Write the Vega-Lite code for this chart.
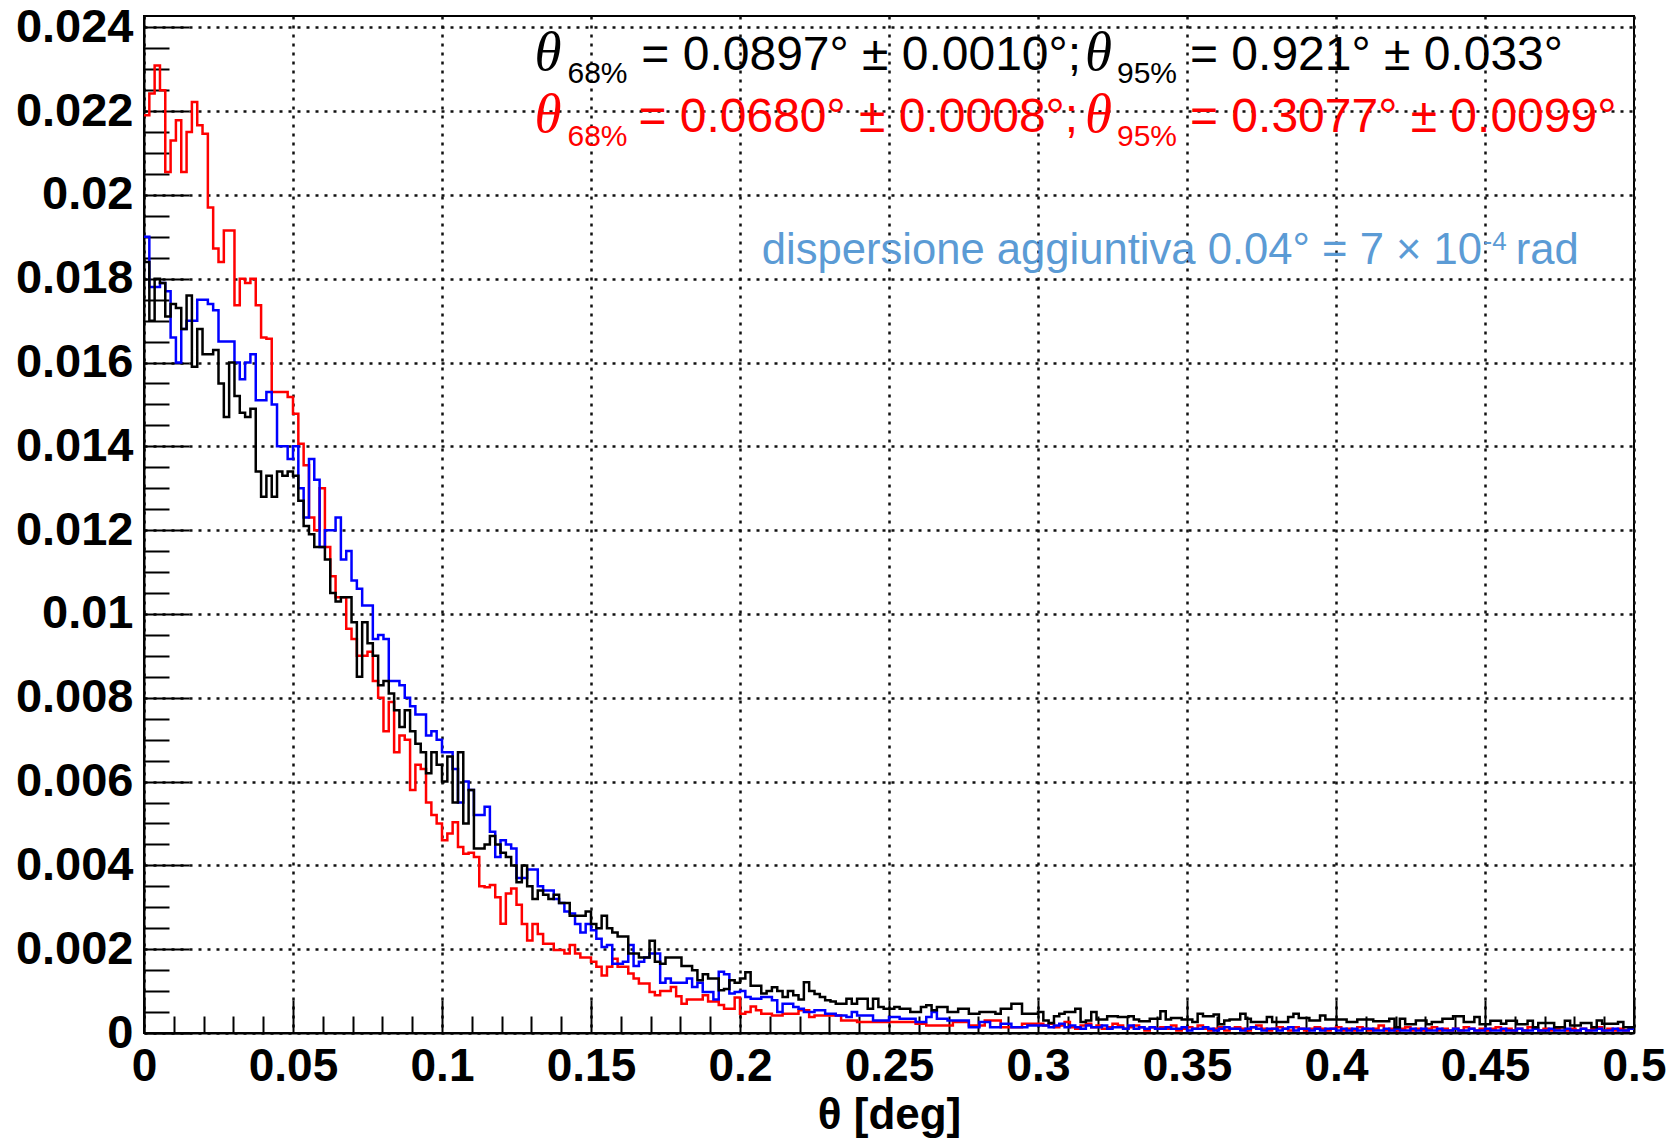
{
"$schema": "https://vega.github.io/schema/vega-lite/v6.json",
"width": 1490, "height": 1017,
"autosize": {"type": "none"},
"padding": {"left": 144, "top": 16, "right": 36, "bottom": 106},
"background": "white",
"config": {"view": {"stroke": "#000", "strokeWidth": 2}, "font": "Liberation Sans"},
"datasets": {
"hist": [
{"x":0,"black":0.0184,"red":0.0219,"blue":0.019},
{"x":0.00179,"black":0.017,"red":0.02242,"blue":0.0178},
{"x":0.00357,"black":0.018,"red":0.02309,"blue":0.0178},
{"x":0.00536,"black":0.0179,"red":0.0225,"blue":0.0179},
{"x":0.00714,"black":0.0171,"red":0.02055,"blue":0.0177},
{"x":0.00893,"black":0.0174,"red":0.0213,"blue":0.0166},
{"x":0.01071,"black":0.0173,"red":0.02178,"blue":0.016},
{"x":0.0125,"black":0.0168,"red":0.02055,"blue":0.0168},
{"x":0.01429,"black":0.0176,"red":0.0215,"blue":0.017},
{"x":0.01607,"black":0.0159,"red":0.02222,"blue":0.017},
{"x":0.01786,"black":0.0168,"red":0.02166,"blue":0.0175},
{"x":0.01964,"black":0.0162,"red":0.02146,"blue":0.0175},
{"x":0.02143,"black":0.0162,"red":0.0197,"blue":0.0174},
{"x":0.02321,"black":0.0163,"red":0.01872,"blue":0.01725},
{"x":0.025,"black":0.0155,"red":0.0184,"blue":0.0165},
{"x":0.02679,"black":0.0147,"red":0.01915,"blue":0.0165},
{"x":0.02857,"black":0.016,"red":0.01915,"blue":0.0165},
{"x":0.03036,"black":0.0152,"red":0.01737,"blue":0.016},
{"x":0.03214,"black":0.0148,"red":0.018,"blue":0.0156},
{"x":0.03393,"black":0.0147,"red":0.0179,"blue":0.016},
{"x":0.03571,"black":0.0149,"red":0.018,"blue":0.0162},
{"x":0.0375,"black":0.0134,"red":0.01737,"blue":0.0151},
{"x":0.03929,"black":0.0128,"red":0.0166,"blue":0.0151},
{"x":0.04107,"black":0.0133,"red":0.01657,"blue":0.0153},
{"x":0.04286,"black":0.0128,"red":0.0153,"blue":0.015},
{"x":0.04464,"black":0.0134,"red":0.0153,"blue":0.014},
{"x":0.04643,"black":0.0133,"red":0.0153,"blue":0.014},
{"x":0.04821,"black":0.0134,"red":0.01518,"blue":0.0137},
{"x":0.05,"black":0.0133,"red":0.01478,"blue":0.014},
{"x":0.05179,"black":0.0127,"red":0.01406,"blue":0.013},
{"x":0.05357,"black":0.0121,"red":0.01355,"blue":0.0123},
{"x":0.05536,"black":0.0119,"red":0.0123,"blue":0.0137},
{"x":0.05714,"black":0.0116,"red":0.012,"blue":0.0132},
{"x":0.05893,"black":0.0116,"red":0.013,"blue":0.0116},
{"x":0.06071,"black":0.0113,"red":0.0116,"blue":0.012},
{"x":0.0625,"black":0.0105,"red":0.0109,"blue":0.012},
{"x":0.06429,"black":0.0103,"red":0.0104,"blue":0.0123},
{"x":0.06607,"black":0.0104,"red":0.0104,"blue":0.0113},
{"x":0.06786,"black":0.0104,"red":0.00965,"blue":0.0115},
{"x":0.06964,"black":0.0098,"red":0.0094,"blue":0.0108},
{"x":0.07143,"black":0.0085,"red":0.009,"blue":0.0106},
{"x":0.07321,"black":0.0098,"red":0.009,"blue":0.0102},
{"x":0.075,"black":0.0093,"red":0.0091,"blue":0.0102},
{"x":0.07679,"black":0.009,"red":0.0084,"blue":0.0094},
{"x":0.07857,"black":0.0083,"red":0.008,"blue":0.0095},
{"x":0.08036,"black":0.0084,"red":0.0072,"blue":0.0094},
{"x":0.08214,"black":0.0081,"red":0.0079,"blue":0.0084},
{"x":0.08393,"black":0.0077,"red":0.0067,"blue":0.0084},
{"x":0.08571,"black":0.0073,"red":0.0071,"blue":0.0083},
{"x":0.0875,"black":0.0077,"red":0.007,"blue":0.008},
{"x":0.08929,"black":0.0072,"red":0.0058,"blue":0.0078},
{"x":0.09107,"black":0.0069,"red":0.0064,"blue":0.0076},
{"x":0.09286,"black":0.0067,"red":0.0063,"blue":0.0076},
{"x":0.09464,"black":0.0062,"red":0.0055,"blue":0.0071},
{"x":0.09643,"black":0.0067,"red":0.0052,"blue":0.0072},
{"x":0.09821,"black":0.0064,"red":0.005,"blue":0.007},
{"x":0.1,"black":0.006,"red":0.0046,"blue":0.0067},
{"x":0.10179,"black":0.0066,"red":0.00476,"blue":0.0067},
{"x":0.10357,"black":0.0055,"red":0.00503,"blue":0.0063},
{"x":0.10536,"black":0.0067,"red":0.00444,"blue":0.0055},
{"x":0.10714,"black":0.005,"red":0.00428,"blue":0.006},
{"x":0.10893,"black":0.0058,"red":0.0043,"blue":0.0058},
{"x":0.11071,"black":0.0044,"red":0.0042,"blue":0.0052},
{"x":0.1125,"black":0.0044,"red":0.0035,"blue":0.0052},
{"x":0.11429,"black":0.0045,"red":0.00348,"blue":0.0054},
{"x":0.11607,"black":0.0047,"red":0.00353,"blue":0.0048},
{"x":0.11786,"black":0.0045,"red":0.00324,"blue":0.0042},
{"x":0.11964,"black":0.0043,"red":0.00261,"blue":0.0046},
{"x":0.12143,"black":0.0042,"red":0.00333,"blue":0.0045},
{"x":0.12321,"black":0.004,"red":0.00345,"blue":0.0044},
{"x":0.125,"black":0.0036,"red":0.00306,"blue":0.0037},
{"x":0.12679,"black":0.004,"red":0.0026,"blue":0.0037},
{"x":0.12857,"black":0.0035,"red":0.00221,"blue":0.0039},
{"x":0.13036,"black":0.0032,"red":0.0026,"blue":0.0039},
{"x":0.13214,"black":0.0034,"red":0.00236,"blue":0.0035},
{"x":0.13393,"black":0.0033,"red":0.00213,"blue":0.0034},
{"x":0.13571,"black":0.0032,"red":0.00213,"blue":0.0034},
{"x":0.1375,"black":0.0033,"red":0.00198,"blue":0.0032},
{"x":0.13929,"black":0.0031,"red":0.00198,"blue":0.0031},
{"x":0.14107,"black":0.0031,"red":0.0019,"blue":0.0029},
{"x":0.14286,"black":0.0028,"red":0.0021,"blue":0.00285},
{"x":0.14464,"black":0.0028,"red":0.0019,"blue":0.0026},
{"x":0.14643,"black":0.0028,"red":0.0018,"blue":0.0024},
{"x":0.14821,"black":0.0029,"red":0.0018,"blue":0.0026},
{"x":0.15,"black":0.0026,"red":0.0017,"blue":0.00245},
{"x":0.15179,"black":0.0025,"red":0.00158,"blue":0.00225},
{"x":0.15357,"black":0.0028,"red":0.00137,"blue":0.00205},
{"x":0.15536,"black":0.0025,"red":0.00158,"blue":0.0021},
{"x":0.15714,"black":0.0024,"red":0.00177,"blue":0.00165},
{"x":0.15893,"black":0.0023,"red":0.00158,"blue":0.00165},
{"x":0.16071,"black":0.0023,"red":0.00158,"blue":0.0017},
{"x":0.1625,"black":0.0019,"red":0.00142,"blue":0.0021},
{"x":0.16429,"black":0.0019,"red":0.0013,"blue":0.0016},
{"x":0.16607,"black":0.0018,"red":0.00118,"blue":0.0017},
{"x":0.16786,"black":0.0018,"red":0.00118,"blue":0.0018},
{"x":0.16964,"black":0.0022,"red":0.00098,"blue":0.0019},
{"x":0.17143,"black":0.0017,"red":0.0009,"blue":0.0019},
{"x":0.17321,"black":0.00165,"red":0.001,"blue":0.0012},
{"x":0.175,"black":0.0018,"red":0.001,"blue":0.0013},
{"x":0.17679,"black":0.0018,"red":0.0011,"blue":0.0012},
{"x":0.17857,"black":0.0018,"red":0.00088,"blue":0.0012},
{"x":0.18036,"black":0.0016,"red":0.0007,"blue":0.0012},
{"x":0.18214,"black":0.0016,"red":0.0008,"blue":0.0013},
{"x":0.18393,"black":0.0015,"red":0.0008,"blue":0.0011},
{"x":0.18571,"black":0.00126,"red":0.0008,"blue":0.0012},
{"x":0.1875,"black":0.0014,"red":0.0009,"blue":0.00098},
{"x":0.18929,"black":0.0013,"red":0.00075,"blue":0.00098},
{"x":0.19107,"black":0.0013,"red":0.00075,"blue":0.0008},
{"x":0.19286,"black":0.00102,"red":0.00067,"blue":0.00146},
{"x":0.19464,"black":0.00105,"red":0.00058,"blue":0.0014},
{"x":0.19643,"black":0.00126,"red":0.00058,"blue":0.00094},
{"x":0.19821,"black":0.0012,"red":0.00085,"blue":0.00098},
{"x":0.2,"black":0.0013,"red":0.00046,"blue":0.001},
{"x":0.20179,"black":0.00145,"red":0.0005,"blue":0.00086},
{"x":0.20357,"black":0.00113,"red":0.00063,"blue":0.00082},
{"x":0.20536,"black":0.00113,"red":0.00054,"blue":0.00082},
{"x":0.20714,"black":0.00094,"red":0.00046,"blue":0.00086},
{"x":0.20893,"black":0.001,"red":0.00046,"blue":0.00086},
{"x":0.21071,"black":0.00109,"red":0.00042,"blue":0.00078},
{"x":0.2125,"black":0.001,"red":0.00042,"blue":0.0005},
{"x":0.21429,"black":0.00086,"red":0.00046,"blue":0.0007},
{"x":0.21607,"black":0.001,"red":0.00046,"blue":0.0007},
{"x":0.21786,"black":0.0009,"red":0.00046,"blue":0.00062},
{"x":0.21964,"black":0.0008,"red":0.00054,"blue":0.00058},
{"x":0.22143,"black":0.00121,"red":0.00054,"blue":0.0005},
{"x":0.22321,"black":0.001,"red":0.00038,"blue":0.0005},
{"x":0.225,"black":0.00093,"red":0.00042,"blue":0.00054},
{"x":0.22679,"black":0.00086,"red":0.00042,"blue":0.00054},
{"x":0.22857,"black":0.00078,"red":0.00042,"blue":0.00046},
{"x":0.23036,"black":0.00075,"red":0.00042,"blue":0.00046},
{"x":0.23214,"black":0.0007,"red":0.00042,"blue":0.00042},
{"x":0.23393,"black":0.0007,"red":0.0003,"blue":0.00042},
{"x":0.23571,"black":0.00082,"red":0.0003,"blue":0.00038},
{"x":0.2375,"black":0.0007,"red":0.0003,"blue":0.0005},
{"x":0.23929,"black":0.00082,"red":0.00026,"blue":0.00042},
{"x":0.24107,"black":0.00082,"red":0.00026,"blue":0.00042},
{"x":0.24286,"black":0.00058,"red":0.00026,"blue":0.00042},
{"x":0.24464,"black":0.00082,"red":0.00026,"blue":0.0003},
{"x":0.24643,"black":0.00062,"red":0.00026,"blue":0.0003},
{"x":0.24821,"black":0.00058,"red":0.00026,"blue":0.0003},
{"x":0.25,"black":0.00058,"red":0.00026,"blue":0.00038},
{"x":0.25179,"black":0.00062,"red":0.00026,"blue":0.00038},
{"x":0.25357,"black":0.00058,"red":0.00026,"blue":0.00034},
{"x":0.25536,"black":0.00058,"red":0.00026,"blue":0.00034},
{"x":0.25714,"black":0.0005,"red":0.00026,"blue":0.00034},
{"x":0.25893,"black":0.0005,"red":0.00022,"blue":0.00026},
{"x":0.26071,"black":0.00062,"red":0.00022,"blue":0.00026},
{"x":0.2625,"black":0.00066,"red":0.00018,"blue":0.00038},
{"x":0.26429,"black":0.00054,"red":0.00018,"blue":0.0005},
{"x":0.26607,"black":0.00062,"red":0.00018,"blue":0.00034},
{"x":0.26786,"black":0.00062,"red":0.00018,"blue":0.00034},
{"x":0.26964,"black":0.0005,"red":0.00018,"blue":0.0003},
{"x":0.27143,"black":0.0005,"red":0.00026,"blue":0.0003},
{"x":0.27321,"black":0.00058,"red":0.00026,"blue":0.0003},
{"x":0.275,"black":0.00058,"red":0.00026,"blue":0.0003},
{"x":0.27679,"black":0.00046,"red":0.00018,"blue":0.00014},
{"x":0.27857,"black":0.00046,"red":0.00018,"blue":0.00014},
{"x":0.28036,"black":0.0005,"red":0.00018,"blue":0.00026},
{"x":0.28214,"black":0.0005,"red":0.0003,"blue":0.00026},
{"x":0.28393,"black":0.0005,"red":0.0003,"blue":0.00014},
{"x":0.28571,"black":0.00046,"red":0.0003,"blue":0.00014},
{"x":0.2875,"black":0.00058,"red":0.00014,"blue":0.00022},
{"x":0.28929,"black":0.00058,"red":0.00014,"blue":0.00022},
{"x":0.29107,"black":0.0007,"red":0.00014,"blue":0.00014},
{"x":0.29286,"black":0.0007,"red":0.00014,"blue":0.00014},
{"x":0.29464,"black":0.00046,"red":0.00022,"blue":0.00014},
{"x":0.29643,"black":0.00046,"red":0.00022,"blue":0.00018},
{"x":0.29821,"black":0.00046,"red":0.00022,"blue":0.00018},
{"x":0.3,"black":0.0005,"red":0.00022,"blue":0.00018},
{"x":0.30179,"black":0.0003,"red":0.00018,"blue":0.00018},
{"x":0.30357,"black":0.00024,"red":0.00022,"blue":0.00014},
{"x":0.30536,"black":0.0004,"red":0.00014,"blue":0.00018},
{"x":0.30714,"black":0.00046,"red":0.00018,"blue":0.00022},
{"x":0.30893,"black":0.0005,"red":0.00026,"blue":0.00014},
{"x":0.31071,"black":0.0005,"red":0.00014,"blue":0.00018},
{"x":0.3125,"black":0.00058,"red":0.0001,"blue":0.00014},
{"x":0.31429,"black":0.00026,"red":0.00018,"blue":0.0001},
{"x":0.31607,"black":0.0003,"red":0.00022,"blue":0.00018},
{"x":0.31786,"black":0.0005,"red":0.00014,"blue":0.00014},
{"x":0.31964,"black":0.00032,"red":0.00018,"blue":0.00014},
{"x":0.32143,"black":0.00032,"red":0.0001,"blue":0.00018},
{"x":0.32321,"black":0.0004,"red":0.00014,"blue":0.0001},
{"x":0.325,"black":0.0004,"red":0.00022,"blue":0.00014},
{"x":0.32679,"black":0.00038,"red":0.00018,"blue":0.00014},
{"x":0.32857,"black":0.00038,"red":0.0001,"blue":0.0001},
{"x":0.33036,"black":0.0004,"red":0.00014,"blue":0.00018},
{"x":0.33214,"black":0.00032,"red":0.00018,"blue":0.0001},
{"x":0.33393,"black":0.00028,"red":0.00014,"blue":0.00014},
{"x":0.33571,"black":0.00028,"red":0.00006,"blue":0.0001},
{"x":0.3375,"black":0.00034,"red":0.00014,"blue":0.00014},
{"x":0.33929,"black":0.00034,"red":0.0001,"blue":0.0001},
{"x":0.34107,"black":0.00052,"red":0.00014,"blue":0.0001},
{"x":0.34286,"black":0.00032,"red":0.0001,"blue":0.00014},
{"x":0.34464,"black":0.00036,"red":0.00018,"blue":0.0001},
{"x":0.34643,"black":0.00036,"red":0.00006,"blue":0.0001},
{"x":0.34821,"black":0.00032,"red":0.0001,"blue":0.00014},
{"x":0.35,"black":0.00032,"red":0.00014,"blue":0.00006},
{"x":0.35179,"black":0.00026,"red":0.0001,"blue":0.0001},
{"x":0.35357,"black":0.00046,"red":0.00018,"blue":0.0001},
{"x":0.35536,"black":0.0004,"red":0.0001,"blue":0.00014},
{"x":0.35714,"black":0.0004,"red":0.00006,"blue":0.0001},
{"x":0.35893,"black":0.00044,"red":0.0001,"blue":0.00006},
{"x":0.36071,"black":0.00021,"red":0.00014,"blue":0.0001},
{"x":0.3625,"black":0.0003,"red":0.00006,"blue":0.00014},
{"x":0.36429,"black":0.00032,"red":0.0001,"blue":0.0001},
{"x":0.36607,"black":0.00032,"red":0.00014,"blue":0.0001},
{"x":0.36786,"black":0.00046,"red":0.0001,"blue":0.00006},
{"x":0.36964,"black":0.00034,"red":0.00006,"blue":0.0001},
{"x":0.37143,"black":0.00026,"red":0.00014,"blue":0.00014},
{"x":0.37321,"black":0.00026,"red":0.00018,"blue":0.0001},
{"x":0.375,"black":0.00026,"red":0.0001,"blue":0.00006},
{"x":0.37679,"black":0.00038,"red":0.00006,"blue":0.0001},
{"x":0.37857,"black":0.00026,"red":0.0001,"blue":0.0001},
{"x":0.38036,"black":0.00026,"red":0.00014,"blue":0.00006},
{"x":0.38214,"black":0.00026,"red":0.0001,"blue":0.0001},
{"x":0.38393,"black":0.00038,"red":0.00006,"blue":0.00014},
{"x":0.38571,"black":0.00046,"red":0.00014,"blue":0.00006},
{"x":0.3875,"black":0.00036,"red":0.0001,"blue":0.0001},
{"x":0.38929,"black":0.00036,"red":0.00006,"blue":0.0001},
{"x":0.39107,"black":0.0003,"red":0.0001,"blue":0.00006},
{"x":0.39286,"black":0.0003,"red":0.00014,"blue":0.0001},
{"x":0.39464,"black":0.00042,"red":0.0001,"blue":0.00006},
{"x":0.39643,"black":0.00032,"red":0.00006,"blue":0.0001},
{"x":0.39821,"black":0.00032,"red":0.0001,"blue":0.0001},
{"x":0.4,"black":0.00032,"red":0.00014,"blue":0.00006},
{"x":0.40179,"black":0.00032,"red":0.00006,"blue":0.0001},
{"x":0.40357,"black":0.00026,"red":0.0001,"blue":0.00006},
{"x":0.40536,"black":0.00026,"red":0.00006,"blue":0.0001},
{"x":0.40714,"black":0.00032,"red":0.00014,"blue":0.00006},
{"x":0.40893,"black":0.00032,"red":0.0001,"blue":0.0001},
{"x":0.41071,"black":0.00032,"red":0.00006,"blue":0.0001},
{"x":0.4125,"black":0.00028,"red":0.0001,"blue":0.00006},
{"x":0.41429,"black":0.00028,"red":0.00018,"blue":0.00006},
{"x":0.41607,"black":0.00028,"red":0.00006,"blue":0.0001},
{"x":0.41786,"black":0.00034,"red":0.0001,"blue":0.00006},
{"x":0.41964,"black":0.00014,"red":0.00006,"blue":0.0001},
{"x":0.42143,"black":0.00034,"red":0.0001,"blue":0.00006},
{"x":0.42321,"black":0.00021,"red":0.00014,"blue":0.00006},
{"x":0.425,"black":0.00021,"red":0.00006,"blue":0.0001},
{"x":0.42679,"black":0.0003,"red":0.0001,"blue":0.00006},
{"x":0.42857,"black":0.0003,"red":0.00006,"blue":0.0001},
{"x":0.43036,"black":0.00021,"red":0.0001,"blue":0.00006},
{"x":0.43214,"black":0.00026,"red":0.00014,"blue":0.00006},
{"x":0.43393,"black":0.00026,"red":0.00006,"blue":0.0001},
{"x":0.43571,"black":0.00034,"red":0.0001,"blue":0.00006},
{"x":0.4375,"black":0.00034,"red":0.00006,"blue":0.00006},
{"x":0.43929,"black":0.0004,"red":0.0001,"blue":0.0001},
{"x":0.44107,"black":0.0004,"red":0.00006,"blue":0.00006},
{"x":0.44286,"black":0.00026,"red":0.00014,"blue":0.00006},
{"x":0.44464,"black":0.00026,"red":0.0001,"blue":0.0001},
{"x":0.44643,"black":0.00038,"red":0.00006,"blue":0.00006},
{"x":0.44821,"black":0.00021,"red":0.0001,"blue":0.00006},
{"x":0.45,"black":0.00021,"red":0.00006,"blue":0.0001},
{"x":0.45179,"black":0.00029,"red":0.0001,"blue":0.00006},
{"x":0.45357,"black":0.00029,"red":0.00014,"blue":0.00006},
{"x":0.45536,"black":0.00022,"red":0.00006,"blue":0.0001},
{"x":0.45714,"black":0.00029,"red":0.0001,"blue":0.00006},
{"x":0.45893,"black":0.00029,"red":0.00006,"blue":0.00006},
{"x":0.46071,"black":0.00021,"red":0.0001,"blue":0.0001},
{"x":0.4625,"black":0.00021,"red":0.00006,"blue":0.00006},
{"x":0.46429,"black":0.00029,"red":0.00014,"blue":0.00006},
{"x":0.46607,"black":0.00014,"red":0.0001,"blue":0.0001},
{"x":0.46786,"black":0.00024,"red":0.00006,"blue":0.00006},
{"x":0.46964,"black":0.00024,"red":0.0001,"blue":0.00006},
{"x":0.47143,"black":0.00024,"red":0.00006,"blue":0.0001},
{"x":0.47321,"black":0.00014,"red":0.0001,"blue":0.00006},
{"x":0.475,"black":0.00014,"red":0.00014,"blue":0.00006},
{"x":0.47679,"black":0.00029,"red":0.00006,"blue":0.0001},
{"x":0.47857,"black":0.00018,"red":0.0001,"blue":0.00006},
{"x":0.48036,"black":0.00018,"red":0.00006,"blue":0.00006},
{"x":0.48214,"black":0.00024,"red":0.0001,"blue":0.0001},
{"x":0.48393,"black":0.00024,"red":0.00006,"blue":0.00006},
{"x":0.48571,"black":0.00014,"red":0.0001,"blue":0.00006},
{"x":0.4875,"black":0.0003,"red":0.00014,"blue":0.0001},
{"x":0.48929,"black":0.00022,"red":0.00006,"blue":0.00006},
{"x":0.49107,"black":0.00022,"red":0.0001,"blue":0.00006},
{"x":0.49286,"black":0.00022,"red":0.00006,"blue":0.0001},
{"x":0.49464,"black":0.00026,"red":0.0001,"blue":0.00006},
{"x":0.49643,"black":0.00014,"red":0.00006,"blue":0.00006},
{"x":0.49821,"black":0.00014,"red":0.0001,"blue":0.0001},
{"x":0.5,"black":0.00014,"red":0.0001,"blue":0.0001}
],
"notes": [
{"t":"θ","x":0.131,"y":0.02297,"kind":"theta","series":"black"},
{"t":"68%","x":0.1421,"y":0.02266,"kind":"sub","series":"black"},
{"t":"= 0.0897° ± 0.0010°;","x":0.1669,"y":0.02297,"kind":"main","series":"black"},
{"t":"θ","x":0.3158,"y":0.02297,"kind":"theta","series":"black"},
{"t":"95%","x":0.3265,"y":0.02266,"kind":"sub","series":"black"},
{"t":"= 0.921° ± 0.033°","x":0.351,"y":0.02297,"kind":"main","series":"black"},
{"t":"θ","x":0.131,"y":0.02149,"kind":"theta","series":"red"},
{"t":"68%","x":0.1421,"y":0.02116,"kind":"sub","series":"red"},
{"t":"= 0.0680° ± 0.0008°;","x":0.1659,"y":0.02149,"kind":"main","series":"red"},
{"t":"θ","x":0.3158,"y":0.02149,"kind":"theta","series":"red"},
{"t":"95%","x":0.3265,"y":0.02116,"kind":"sub","series":"red"},
{"t":"= 0.3077° ± 0.0099°","x":0.351,"y":0.02149,"kind":"main","series":"red"},
{"t":"dispersione aggiuntiva 0.04° = 7 × 10","x":0.2073,"y":0.01834,"kind":"note","series":"note"},
{"t":"-4","x":0.4495,"y":0.01868,"kind":"sup","series":"note"},
{"t":"rad","x":0.4603,"y":0.01834,"kind":"note","series":"note"}
]
},
"resolve": {"axis": {"x": "independent", "y": "independent"}},
"layer": [
{
"data": {"name": "hist"},
"transform": [{"fold": ["red", "blue", "black"], "as": ["series", "value"]}],
"mark": {"type": "line", "interpolate": "step-after", "strokeWidth": 2.5, "clip": true},
"encoding": {
"x": {"field": "x", "type": "quantitative",
 "scale": {"domain": [0, 0.5], "nice": false, "zero": false},
 "axis": {"orient": "bottom", "values": [0,0.05,0.1,0.15,0.2,0.25,0.3,0.35,0.4,0.45,0.5], "format": "~g",
  "labelFont": "Liberation Sans", "labelFontWeight": "bold", "labelFontSize": 46, "labelColor": "#000",
  "labelPadding": 44, "labelFlush": false, "labelOverlap": false, "labelBound": false,
  "tickSize": -33, "tickWidth": 2, "tickColor": "#000", "domainColor": "#000", "domainWidth": 2,
  "grid": true, "gridDash": [3, 6], "gridColor": "#111", "gridWidth": 2.5,
  "title": "θ [deg]", "titleFont": "Liberation Sans", "titleFontWeight": "bold", "titleFontSize": 44, "titleColor": "#000", "titlePadding": 4}},
"y": {"field": "value", "type": "quantitative",
 "scale": {"domain": [0, 0.02427], "nice": false, "zero": true},
 "axis": {"orient": "left", "values": [0,0.002,0.004,0.006,0.008,0.01,0.012,0.014,0.016,0.018,0.02,0.022,0.024], "format": "~g",
  "labelFont": "Liberation Sans", "labelFontWeight": "bold", "labelFontSize": 47, "labelColor": "#000",
  "labelPadding": 56, "labelFlush": false, "labelOverlap": false, "labelBound": false,
  "tickSize": -45, "tickWidth": 2, "tickColor": "#000", "domainColor": "#000", "domainWidth": 2,
  "grid": true, "gridDash": [3, 6], "gridColor": "#111", "gridWidth": 2.5, "title": null}},
"color": {"field": "series", "type": "nominal",
 "scale": {"domain": ["red", "blue", "black", "note"], "range": ["#ff0000", "#0000ff", "#000000", "#5b9bd5"]}, "legend": null}
}
},
{
"data": {"name": "notes"},
"transform": [{"filter": "datum.kind == 'main'"}],
"mark": {"type": "text", "align": "left", "baseline": "alphabetic", "fontSize": 48, "font": "Liberation Sans"},
"encoding": {
"x": {"field": "x", "type": "quantitative",
 "axis": {"orient": "bottom", "values": [0.01,0.02,0.03,0.04,0.06,0.07,0.08,0.09,0.11,0.12,0.13,0.14,0.16,0.17,0.18,0.19,0.21,0.22,0.23,0.24,0.26,0.27,0.28,0.29,0.31,0.32,0.33,0.34,0.36,0.37,0.38,0.39,0.41,0.42,0.43,0.44,0.46,0.47,0.48,0.49],
  "labels": false, "domain": false, "grid": false, "tickSize": -17, "tickWidth": 2, "tickColor": "#000", "title": null}},
"y": {"field": "y", "type": "quantitative",
 "axis": {"orient": "left", "values": [0.0005,0.001,0.0015,0.0025,0.003,0.0035,0.0045,0.005,0.0055,0.0065,0.007,0.0075,0.0085,0.009,0.0095,0.0105,0.011,0.0115,0.0125,0.013,0.0135,0.0145,0.015,0.0155,0.0165,0.017,0.0175,0.0185,0.019,0.0195,0.0205,0.021,0.0215,0.0225,0.023,0.0235],
  "labels": false, "domain": false, "grid": false, "tickSize": -25, "tickWidth": 2, "tickColor": "#000", "title": null}},
"text": {"field": "t"},
"color": {"field": "series", "type": "nominal", "legend": null}
}
},
{
"data": {"name": "notes"},
"transform": [{"filter": "datum.kind == 'theta'"}],
"mark": {"type": "text", "align": "left", "baseline": "alphabetic", "fontSize": 55, "fontStyle": "italic", "font": "Liberation Serif"},
"encoding": {
"x": {"field": "x", "type": "quantitative", "axis": null},
"y": {"field": "y", "type": "quantitative", "axis": null},
"text": {"field": "t"},
"color": {"field": "series", "type": "nominal", "legend": null}
}
},
{
"data": {"name": "notes"},
"transform": [{"filter": "datum.kind == 'sub'"}],
"mark": {"type": "text", "align": "left", "baseline": "alphabetic", "fontSize": 30, "font": "Liberation Sans"},
"encoding": {
"x": {"field": "x", "type": "quantitative", "axis": null},
"y": {"field": "y", "type": "quantitative", "axis": null},
"text": {"field": "t"},
"color": {"field": "series", "type": "nominal", "legend": null}
}
},
{
"data": {"name": "notes"},
"transform": [{"filter": "datum.kind == 'note'"}],
"mark": {"type": "text", "align": "left", "baseline": "alphabetic", "fontSize": 43.6, "font": "Liberation Sans"},
"encoding": {
"x": {"field": "x", "type": "quantitative", "axis": null},
"y": {"field": "y", "type": "quantitative", "axis": null},
"text": {"field": "t"},
"color": {"field": "series", "type": "nominal", "legend": null}
}
},
{
"data": {"name": "notes"},
"transform": [{"filter": "datum.kind == 'sup'"}],
"mark": {"type": "text", "align": "left", "baseline": "alphabetic", "fontSize": 26, "font": "Liberation Sans"},
"encoding": {
"x": {"field": "x", "type": "quantitative", "axis": null},
"y": {"field": "y", "type": "quantitative", "axis": null},
"text": {"field": "t"},
"color": {"field": "series", "type": "nominal", "legend": null}
}
}
]
}
